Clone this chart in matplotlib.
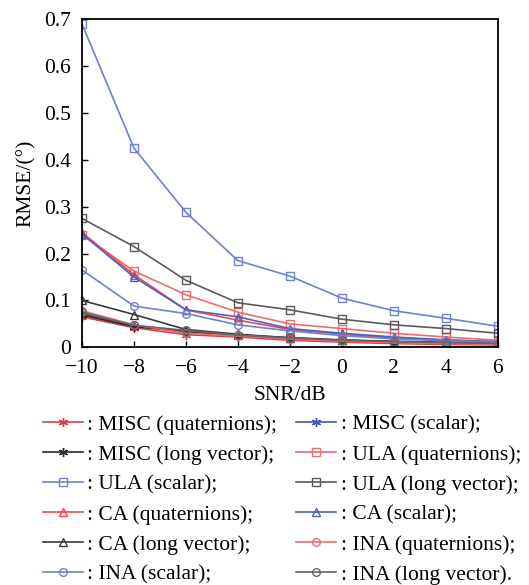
import matplotlib
matplotlib.use("Agg")
import matplotlib.pyplot as plt
from matplotlib.ticker import FuncFormatter

plt.rcParams['font.family'] = ['Liberation Serif', 'DejaVu Serif']

# --------------------------------------------------------------
# Data
# --------------------------------------------------------------
snr = [-10, -8, -6, -4, -2, 0, 2, 4, 6]

misc_q = [0.065, 0.042, 0.027, 0.022, 0.015, 0.011, 0.008, 0.006, 0.005]
misc_s = [0.072, 0.046, 0.033, 0.026, 0.021, 0.016, 0.013, 0.011, 0.009]
misc_l = [0.069, 0.044, 0.034, 0.025, 0.019, 0.015, 0.012, 0.010, 0.008]
ula_q = [0.240, 0.163, 0.112, 0.075, 0.050, 0.040, 0.030, 0.022, 0.015]
ula_s = [0.690, 0.425, 0.288, 0.185, 0.152, 0.105, 0.078, 0.062, 0.045]
ula_l = [0.275, 0.215, 0.143, 0.095, 0.080, 0.060, 0.048, 0.040, 0.030]
ca_q = [0.245, 0.155, 0.080, 0.058, 0.038, 0.028, 0.020, 0.015, 0.012]
ca_s = [0.242, 0.150, 0.080, 0.065, 0.040, 0.030, 0.022, 0.016, 0.012]
ca_l = [0.100, 0.070, 0.038, 0.028, 0.020, 0.015, 0.012, 0.010, 0.008]
ina_q = [0.078, 0.048, 0.030, 0.024, 0.018, 0.013, 0.010, 0.008, 0.006]
ina_s = [0.165, 0.088, 0.072, 0.048, 0.035, 0.025, 0.018, 0.014, 0.011]
ina_l = [0.075, 0.047, 0.036, 0.026, 0.020, 0.015, 0.012, 0.010, 0.008]

labels = [
    "MISC (quaternions);", "MISC (scalar);",
    "MISC (long vector);", "ULA (quaternions);",
    "ULA (scalar);", "ULA (long vector);",
    "CA (quaternions);", "CA (scalar);",
    "CA (long vector);", "INA (quaternions);",
    "INA (scalar);", "INA (long vector).",
]
series = [misc_q, misc_s, misc_l, ula_q, ula_s, ula_l,
          ca_q, ca_s, ca_l, ina_q, ina_s, ina_l]

red = "#e5393d"
blue = "#3f58b0"
dark = "#2b2b2b"
star = (6, 2, 0)  # asterisk
styles = [
    (star, red), (star, blue), (star, dark),
    ("s", "#ee6b6e"), ("s", "#6f82cc"), ("s", "#5a5a5a"),
    ("^", "#e8484c"), ("^", "#4a62b8"), ("^", "#3a3a3a"),
    ("o", "#ee6b6e"), ("o", "#6f82cc"), ("o", "#666666"),
]

fs = 15.5
fig = plt.figure(figsize=(5.29, 5.85), dpi=100)
ax = fig.add_axes([0.155, 0.4063, 0.786, 0.5607])

handles = []
for vals, lab, (mk, col) in zip(series, labels, styles):
    ms = 6.5 if mk == star else 5.5
    h, = ax.plot(snr, vals, color=col, lw=1.2, marker=mk, ms=ms,
                 mfc="none", mec=col, mew=1.0, label=": " + lab)
    handles.append(h)

ax.set_xlim(-10, 6)
ax.set_ylim(0, 0.7)
ax.set_xticks(snr)
ax.set_yticks([0, 0.1, 0.2, 0.3, 0.4, 0.5, 0.6, 0.7])
ax.yaxis.set_major_formatter(FuncFormatter(lambda v, p: "0" if v == 0 else f"{v:.1f}"))
ax.xaxis.set_major_formatter(FuncFormatter(lambda v, p: f"{int(v)}".replace("-", "\u2212")))
ax.tick_params(axis="y", direction="in", length=4, labelsize=fs, width=1, pad=8)
ax.tick_params(axis="x", direction="in", length=4, labelsize=fs, width=1, pad=8.5)
for s in ax.spines.values():
    s.set_linewidth(1.3)

ax.set_xlabel("SNR/dB", fontsize=fs, labelpad=6)
ax.set_ylabel("RMSE/(°)", fontsize=fs, labelpad=6)

# legend: two columns filled row by row
order = handles[0::2] + handles[1::2]
fig.legend(handles=order, labels=[h.get_label() for h in order],
           loc="upper left", bbox_to_anchor=(0.065, 0.306), ncol=2,
           frameon=False, fontsize=fs, handlelength=1.85,
           handletextpad=0.2, columnspacing=0.9, labelspacing=0.46,
           borderaxespad=0)

fig.savefig("out.png", dpi=100)
